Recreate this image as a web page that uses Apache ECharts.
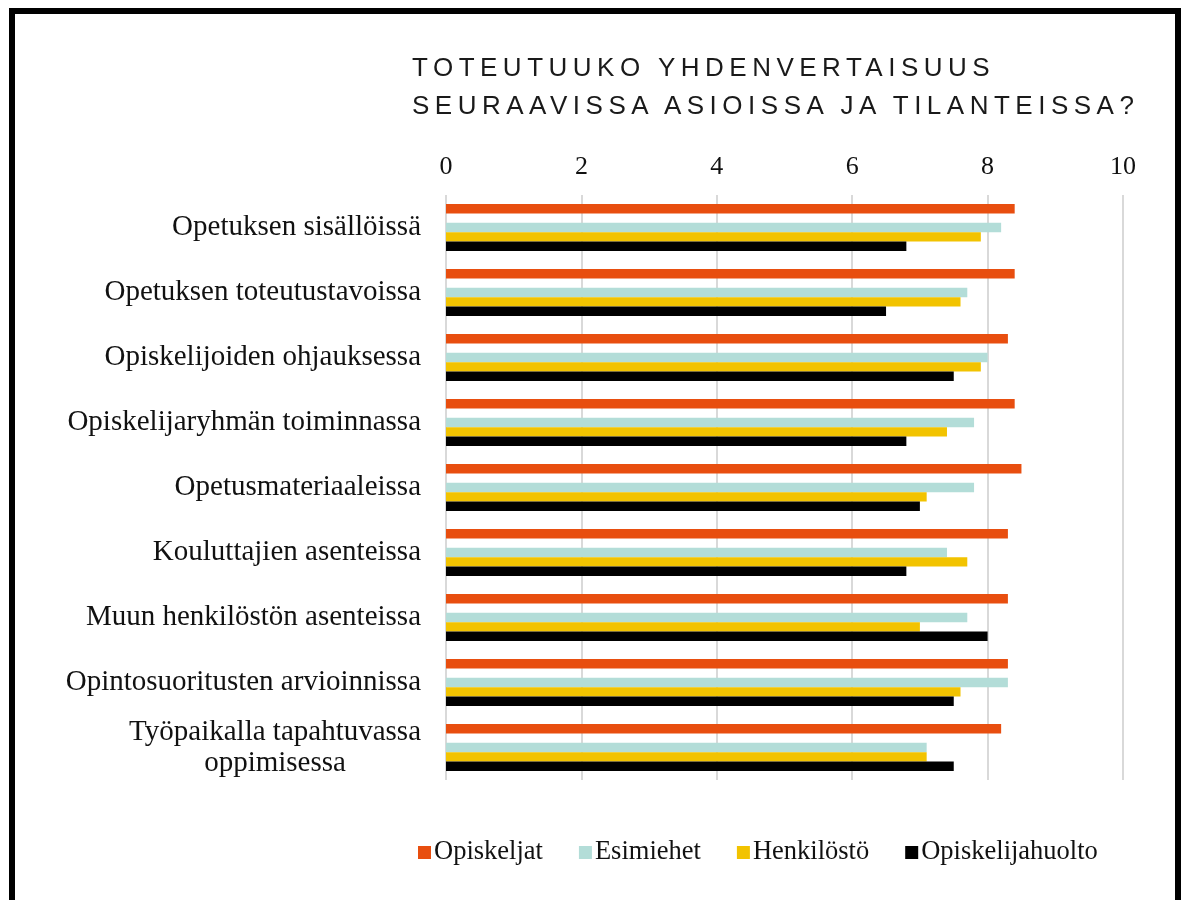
<!DOCTYPE html>
<html>
<head>
	<meta charset="utf-8">
	<script src="https://cdn.jsdelivr.net/npm/echarts@6/dist/echarts.min.js"></script>
	<title>Yhdenvertaisuus</title>
</head>
<body>

<style>
	html, body {
		margin: 0;
		padding: 0;
		background: #fff;
	}
	#wrap {
		position: relative;
		width: 1184px;
		height: 900px;
		overflow: hidden;
	}
	#main {
		width: 1184px;
		height: 900px;
	}
	#frame {
		position: absolute;
		left: 9px;
		top: 8px;
		width: 1160px;
		height: 920px;
		border: 6px solid #000;
		pointer-events: none;
	}
	#otsikko {
		position: absolute;
		left: 412px;
		top: 48px;
		font-family: 'Liberation Sans', sans-serif;
		font-size: 26px;
		line-height: 38px;
		letter-spacing: 5.5px;
		color: #1a1a1a;
		pointer-events: none;
	}
</style>

<div id="wrap">
	<div id="main"></div>
	<div id="otsikko">TOTEUTUUKO YHDENVERTAISUUS<br>SEURAAVISSA ASIOISSA JA TILANTEISSA?</div>
	<div id="frame"></div>
</div>

<script type="text/javascript">
    // kategoriat ylhäältä alas
    var kategoriat = [
        'Opetuksen sisällöissä',
        'Opetuksen toteutustavoissa',
        'Opiskelijoiden ohjauksessa',
        'Opiskelijaryhmän toiminnassa',
        'Opetusmateriaaleissa',
        'Kouluttajien asenteissa',
        'Muun henkilöstön asenteissa',
        'Opintosuoritusten arvioinnissa',
        'Työpaikalla tapahtuvassa\noppimisessa'
    ];

    var opiskeljat       = [8.4, 8.4, 8.3, 8.4, 8.5, 8.3, 8.3, 8.3, 8.2];
    var esimiehet        = [8.2, 7.7, 8.0, 7.8, 7.8, 7.4, 7.7, 8.3, 7.1];
    var henkilosto       = [7.9, 7.6, 7.9, 7.4, 7.1, 7.7, 7.0, 7.6, 7.1];
    var opiskelijahuolto = [6.8, 6.5, 7.5, 6.8, 7.0, 6.8, 8.0, 7.5, 7.5];

    var akseliTikit = [0, 2, 4, 6, 8, 10];

    var serif = "'Liberation Serif', 'DejaVu Serif', serif";

    var myChart = echarts.init(document.getElementById('main'));

    function palkki(nimi, data, vari) {
        return {
            name: nimi,
            type: 'bar',
            data: data,
            barGap: '0%',
            barCategoryGap: '28%',
            itemStyle: { color: vari },
            emphasis: { disabled: true }
        };
    }

    var option = {
        animation: false,
        backgroundColor: '#fff',
        legend: {
            data: ['Opiskeljat', 'Esimiehet', 'Henkilöstö', 'Opiskelijahuolto'],
            left: 413,
            top: 834,
            itemWidth: 13,
            itemHeight: 13,
            itemGap: 36,
            icon: 'rect',
            textStyle: { fontFamily: serif, fontSize: 26.5, color: '#111', padding: [0, 0, 0, -2] }
        },
        grid: {
            left: 446,
            right: 61,
            top: 195,
            bottom: 120,
            containLabel: false
        },
        xAxis: {
            type: 'value',
            position: 'top',
            min: akseliTikit[0],
            max: akseliTikit[akseliTikit.length - 1],
            interval: 2,
            axisLine: { show: false },
            axisTick: { show: false },
            axisLabel: { fontFamily: serif, fontSize: 26, color: '#111', margin: 15 },
            splitLine: { lineStyle: { color: '#d9d9d9', width: 2 } }
        },
        yAxis: {
            type: 'category',
            inverse: true,
            data: kategoriat,
            axisLine: { show: false },
            axisTick: { show: false },
            axisLabel: {
                margin: 25,
                formatter: function (v) {
                    return v.split('\n').map(function (r) { return '{c|' + r + '}'; }).join('\n');
                },
                rich: {
                    c: { fontFamily: serif, fontSize: 29, color: '#111', align: 'center', lineHeight: 31 }
                }
            }
        },
        series: [
            palkki('Opiskeljat', opiskeljat, '#e84e0f'),
            { name: 'tyhja', type: 'bar', data: [], barGap: '0%', barCategoryGap: '28%' },
            palkki('Esimiehet', esimiehet, '#b3ddd8'),
            palkki('Henkilöstö', henkilosto, '#f2c300'),
            palkki('Opiskelijahuolto', opiskelijahuolto, '#000000')
        ]
    };

    myChart.setOption(option);

    window.onresize = function () { myChart.resize(); };
</script>
</body>
</html>
